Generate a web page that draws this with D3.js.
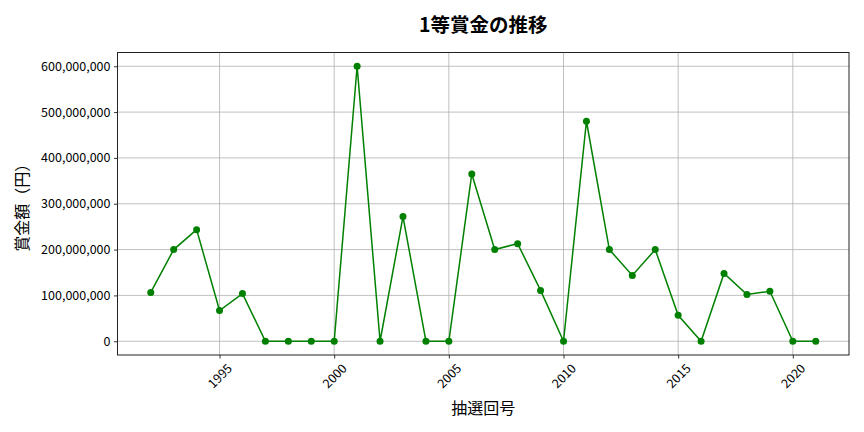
<!DOCTYPE html>
<html>
<head>
<meta charset="utf-8">
<script src="https://cdn.jsdelivr.net/npm/d3@7"></script>
<style>
  body { margin: 0; background: #fff; }
  svg text { font-family: "Noto Sans CJK JP", "Noto Sans", sans-serif; fill: #000; }
</style>
</head>
<body>
<svg id="chart" width="864" height="432"></svg>
<script>
// 1等賞金 by draw year
const years = [1992, 1993, 1994, 1995, 1996, 1997, 1998, 1999, 2000, 2001,
  2002, 2003, 2004, 2005, 2006, 2007, 2008, 2009, 2010, 2011,
  2012, 2013, 2014, 2015, 2016, 2017, 2018, 2019, 2020, 2021];
const prizes = [106500000, 200000000, 243500000, 67000000, 104000000, 0, 0, 0, 0, 600000000,
  0, 272000000, 0, 0, 365000000, 200000000, 213000000, 111000000, 0, 480000000,
  200000000, 143500000, 200000000, 56500000, 0, 148000000, 102000000, 109000000, 0, 0];
const xTicks = [1995, 2000, 2005, 2010, 2015, 2020];
const yTicks = [0, 100000000, 200000000, 300000000, 400000000, 500000000, 600000000];

const titleText = '1等賞金の推移';
const xLabelText = '抽選回号';
const yLabelText = '賞金額（円）';

(function() {
  'use strict';

  const svg = d3.select('#chart');
  const margin = { left: 117.5, right: 15, top: 52.5, bottom: 77 };
  const width = 864, height = 432;
  const plotW = width - margin.left - margin.right;
  const plotH = height - margin.top - margin.bottom;

  // matplotlib-style 5% padding on both axes
  const xMin = d3.min(years), xMax = d3.max(years);
  const xPad = (xMax - xMin) * 0.05;
  const yMax = d3.max(prizes);
  const yPad = yMax * 0.05;

  const x = d3.scaleLinear().domain([xMin - xPad, xMax + xPad]).range([0, plotW]);
  const y = d3.scaleLinear().domain([-yPad, yMax + yPad]).range([plotH, 0]);

  const g = svg.append('g').attr('transform', `translate(${margin.left},${margin.top})`);

  // grid
  g.append('g').selectAll('line').data(xTicks).join('line')
    .attr('x1', d => x(d)).attr('x2', d => x(d))
    .attr('y1', 0).attr('y2', plotH)
    .attr('stroke', '#b0b0b0').attr('stroke-width', 0.8);
  g.append('g').selectAll('line').data(yTicks).join('line')
    .attr('x1', 0).attr('x2', plotW)
    .attr('y1', d => y(d)).attr('y2', d => y(d))
    .attr('stroke', '#b0b0b0').attr('stroke-width', 0.8);

  // axes
  const fmt = d3.format(',');
  const yAxis = g.append('g')
    .call(d3.axisLeft(y).tickValues(yTicks).tickFormat(fmt).tickSize(3.5).tickPadding(3.5));
  yAxis.select('.domain').remove();
  yAxis.selectAll('text').attr('font-size', 12.5)
    .style('font-family', '"Noto Sans CJK JP", sans-serif');
  yAxis.selectAll('line').attr('stroke', '#000').attr('stroke-width', 0.8);

  const xAxis = g.append('g').attr('transform', `translate(0,${plotH})`)
    .call(d3.axisBottom(x).tickValues(xTicks).tickFormat(d3.format('d')).tickSize(3.5));
  xAxis.select('.domain').remove();
  xAxis.selectAll('line').attr('stroke', '#000').attr('stroke-width', 0.8);
  xAxis.selectAll('text')
    .attr('font-size', 12.5)
    .style('font-family', '"Noto Sans CJK JP", sans-serif')
    .attr('text-anchor', 'middle')
    .attr('dy', '0.35em')
    .attr('y', 21)
    .attr('transform', function() {
      return `rotate(-45,0,21)`;
    });

  // line + markers
  const data = years.map((yr, i) => ({ year: yr, value: prizes[i] }));
  const line = d3.line().x(d => x(d.year)).y(d => y(d.value));
  g.append('path').datum(data)
    .attr('d', line)
    .attr('fill', 'none')
    .attr('stroke', 'green')
    .attr('stroke-width', 1.5);
  g.append('g').selectAll('circle').data(data).join('circle')
    .attr('cx', d => x(d.year))
    .attr('cy', d => y(d.value))
    .attr('r', 3.5)
    .attr('fill', 'green');

  // frame
  g.append('rect')
    .attr('width', plotW).attr('height', plotH)
    .attr('fill', 'none').attr('stroke', '#222').attr('stroke-width', 1);

  // title & labels
  svg.append('text')
    .attr('x', margin.left + plotW / 2).attr('y', 25)
    .attr('dy', '0.35em')
    .attr('text-anchor', 'middle')
    .attr('font-size', 19.5).attr('font-weight', 'bold')
    .text(titleText);

  svg.append('text')
    .attr('x', margin.left + plotW / 2).attr('y', 408)
    .attr('dy', '0.35em')
    .attr('text-anchor', 'middle')
    .attr('font-size', 16)
    .text(xLabelText);

  svg.append('text')
    .attr('transform', `translate(22,${margin.top + plotH / 2}) rotate(-90)`)
    .attr('dy', '0.35em')
    .attr('text-anchor', 'middle')
    .attr('font-size', 16)
    .text(yLabelText);
})();
</script>
</body>
</html>
